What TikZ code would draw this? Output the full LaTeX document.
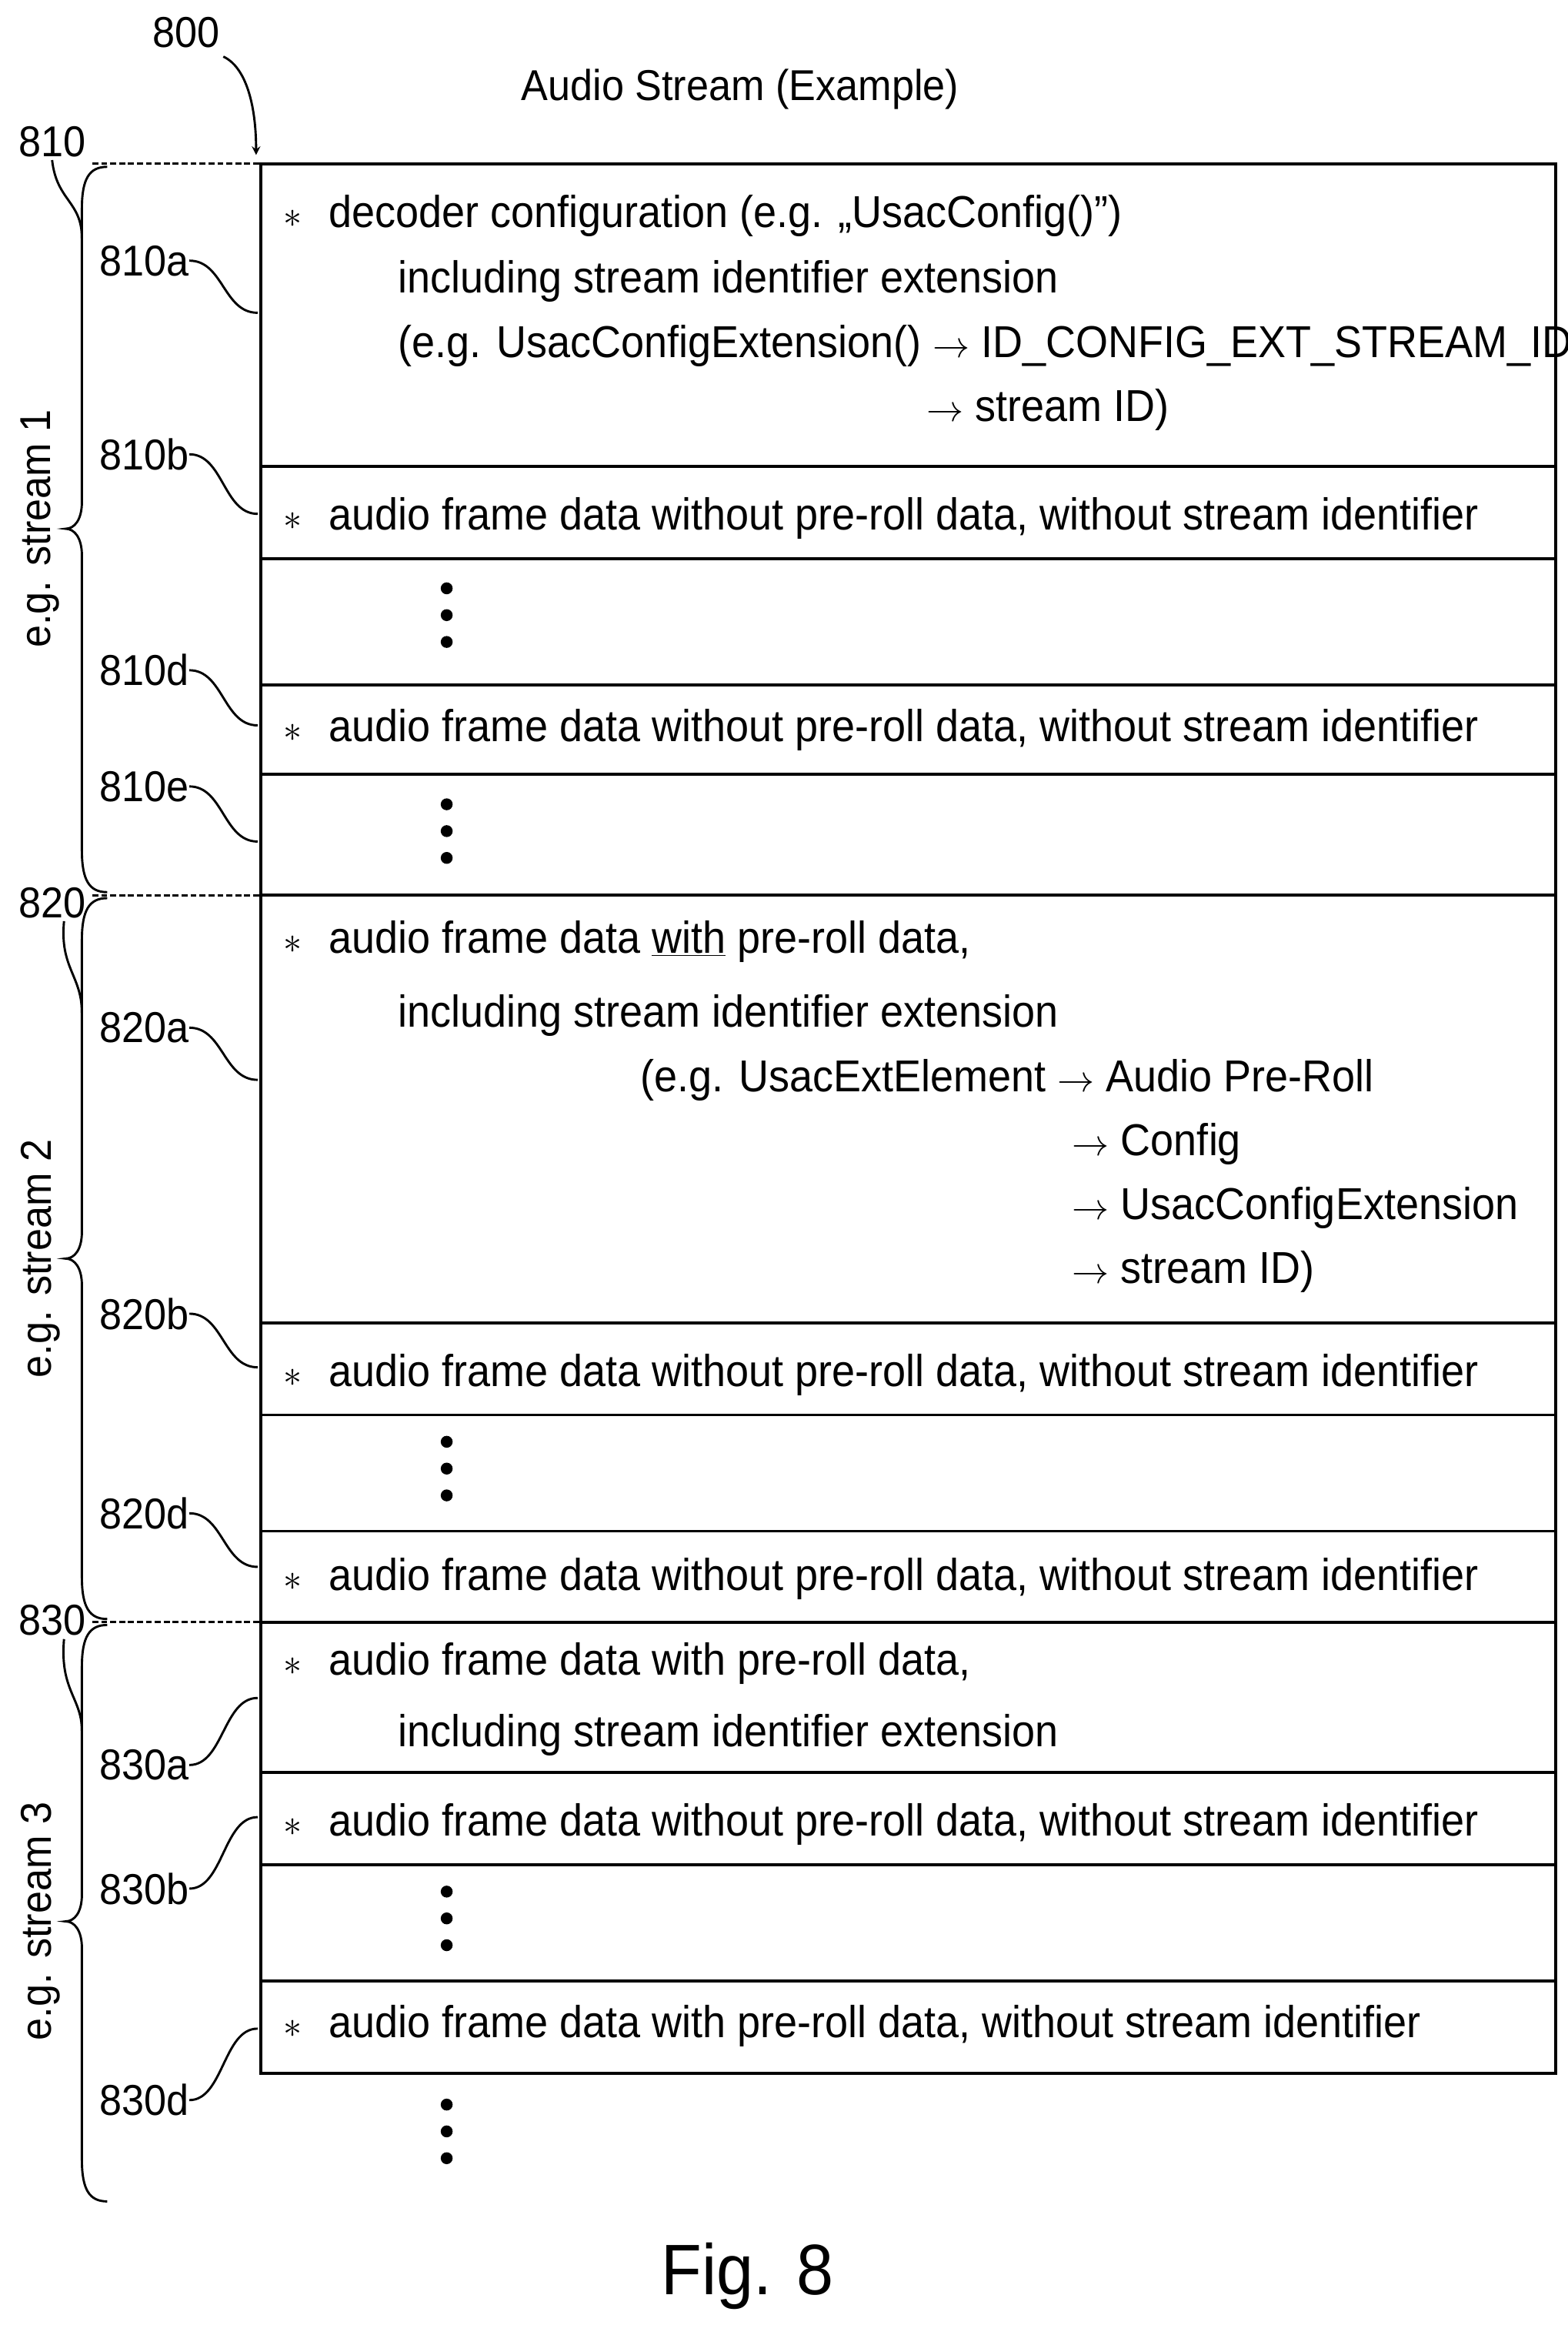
\documentclass[tikz,border=0pt]{standalone}
\usepackage{fontspec}
\setmainfont{Liberation Sans}[FakeStretch=0.93]
\begin{document}
\begin{tikzpicture}[x=1pt,y=-1pt,
  txt/.style={anchor=west,inner sep=0pt,font=\fontsize{30}{34}\selectfont},
  lab/.style={inner sep=0pt,font=\fontsize{29}{34}\selectfont},
  ln/.style={line width=2pt},
  thin/.style={line width=1.5pt},
  dot/.style={circle,fill,inner sep=0pt,minimum size=8pt}]
\useasboundingbox (0,0) rectangle (1053,1561);
\node[lab] (n800) at (125,22) {800};
\node[lab] (title) at (497,60) {Audio Stream (Example)};
\coordinate (a800) at (172,104);
\draw[thin,->,>=stealth] (150,38) .. controls (165,45) and (172,70) .. (a800);
\draw[ln] (175,110) rectangle (1045,1392);
\foreach \y in {313,375,460,520,601,888,950,1028,1089,1190,1252,1330}
  \draw[ln] (175,\y) -- (1045,\y);
\foreach \y in {110,601,1089} \draw[thin,dash pattern=on 4pt off 2pt] (62,\y) -- (175,\y);
% braces
\foreach \ya/\ym/\yb in {112/355/599, 603/845/1087, 1091/1290/1478}
  \draw[thin] (72,\ya) .. controls (60,\ya) and (55,\ya+8) .. (55,\ya+28) -- (55,\ym-18)
   .. controls (55,\ym-6) and (50,\ym) .. (44,\ym) .. controls (50,\ym) and (55,\ym+6) .. (55,\ym+18)
   -- (55,\yb-28) .. controls (55,\yb-8) and (60,\yb) .. (72,\yb);
\node[lab,rotate=90] (s1) at (27,355) {e.g. stream 1};
\node[lab,rotate=90] (s2) at (27,845) {e.g. stream 2};
\node[lab,rotate=90] (s3) at (27,1290) {e.g. stream 3};
\node[lab] (n810) at (35,95) {810};
\node[lab] (n820) at (35,606) {820};
\node[lab] (n830) at (35,1088) {830};
\coordinate (b1) at (55,160); \coordinate (b2) at (55,680); \coordinate (b3) at (55,1162);
\draw[thin] (n810.south) ++(0,2) .. controls (38,135) and (55,135) .. (b1);
\draw[thin] (n820.south) ++(8,2) .. controls (40,650) and (55,655) .. (b2);
\draw[thin] (n830.south) ++(8,2) .. controls (40,1135) and (55,1140) .. (b3);
% reference labels
\foreach \nm/\ly/\ty in {810a/175/210, 810b/305/345, 810d/450/487, 810e/528/565, 820a/690/725, 820b/882/918, 820d/1016/1052, 830a/1185/1140, 830b/1268/1220, 830d/1410/1362}{
  \node[lab] (L\nm) at (97,\ly) {\nm};
  \coordinate (T\nm) at (173,\ty);
  \draw[thin] (L\nm.east) .. controls (150,\ly) and (150,\ty) .. (T\nm);
}
% texts
\newcommand\myast{$\ast$\hspace{18pt}}
\node[txt] (t1) at (190,145) {\myast decoder configuration (e.g. „UsacConfig()”)};
\node[txt] (t2) at (267,189) {including stream identifier extension};
\node[txt] (t3) at (267,232) {(e.g. UsacConfigExtension() $\rightarrow$ ID\_CONFIG\_EXT\_STREAM\_ID};
\node[txt] (t4) at (622,275) {$\rightarrow$ stream ID)};
\foreach \nm/\y in {a/348, b/490, c/923, d/1060, e/1225}
  \node[txt] (w\nm) at (190,\y) {\myast audio frame data without pre-roll data, without stream identifier};
\node[txt] (u1) at (190,632) {\myast audio frame data \underline{with} pre-roll data,};
\node[txt] (u2) at (267,682) {including stream identifier extension};
\node[txt] (u3) at (430,725) {(e.g. UsacExtElement $\rightarrow$ Audio Pre-Roll};
\node[txt] (u4) at (720,768) {$\rightarrow$ Config};
\node[txt] (u5) at (720,811) {$\rightarrow$ UsacConfigExtension};
\node[txt] (u6) at (720,854) {$\rightarrow$ stream ID)};
\node[txt] (v1) at (190,1117) {\myast audio frame data with pre-roll data,};
\node[txt] (v2) at (267,1165) {including stream identifier extension};
\node[txt] (v3) at (190,1360) {\myast audio frame data with pre-roll data, without stream identifier};
\foreach \y in {395,540,968,1270,1413}{
  \node[dot] at (300,\y) {}; \node[dot] at (300,\y+18) {}; \node[dot] at (300,\y+36) {};}
\node[lab,font=\fontsize{48}{56}\selectfont] (fig) at (502,1528) {Fig. 8};
\end{tikzpicture}
\end{document}
